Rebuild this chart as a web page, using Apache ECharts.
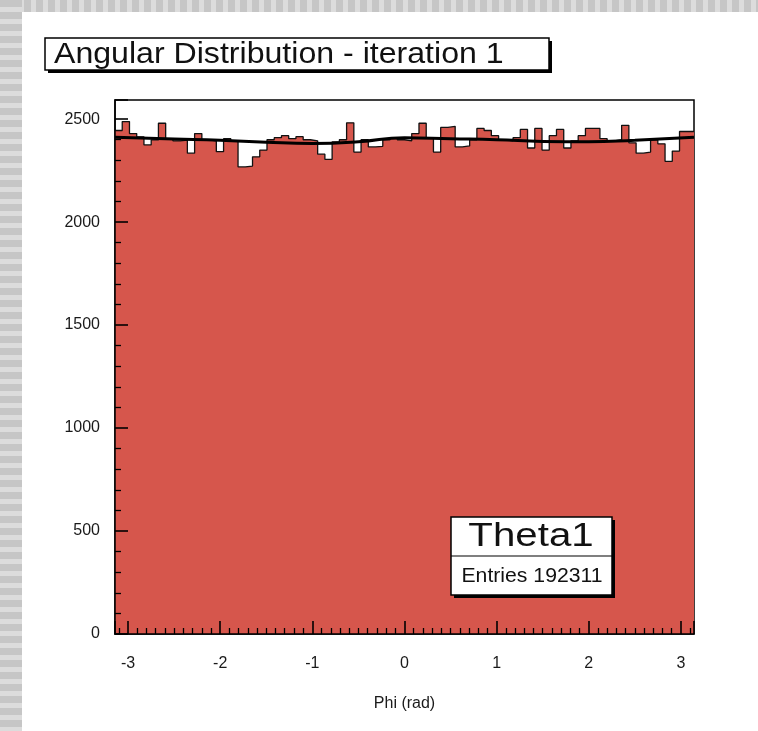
<!DOCTYPE html>
<html><head><meta charset="utf-8">
<script src="https://cdn.jsdelivr.net/npm/echarts@6/dist/echarts.min.js"></script>
<style>
html,body{margin:0;padding:0;width:758px;height:731px;overflow:hidden;background:#fff}
#bgTop{position:absolute;left:0;top:0;width:758px;height:12px;background:repeating-linear-gradient(90deg,#c6c6c6 0 7px,#dcdcdc 7px 12px)}
#bgLeft{position:absolute;left:0;top:0;width:22px;height:731px;background:repeating-linear-gradient(180deg,#c6c6c6 0 7px,#dcdcdc 7px 12px)}
#chart{position:absolute;left:0;top:0;width:758px;height:731px}
</style></head><body>
<div id="bgTop"></div><div id="bgLeft"></div><div id="chart"></div>
<script>
// ---- data ----
const titleText = "Angular Distribution - iteration 1";
const statsName = "Theta1";
const statsEntries = "Entries 192311";
const xAxisTitle = "Phi (rad)";
const phiMin = -Math.PI;
const phiMax = Math.PI;
const binCounts = [
  2445, 2488, 2430, 2414, 2375, 2399, 2480, 2405, 2395, 2398,
  2335, 2430, 2400, 2395, 2342, 2405, 2395, 2268, 2272, 2317,
  2350, 2400, 2410, 2420, 2405, 2415, 2400, 2395, 2330, 2305,
  2390, 2400, 2482, 2340, 2400, 2365, 2368, 2400, 2410, 2400,
  2395, 2430, 2480, 2410, 2340, 2460, 2465, 2365, 2370, 2400,
  2455, 2445, 2420, 2400, 2395, 2410, 2450, 2360, 2455, 2350,
  2420, 2450, 2360, 2395, 2420, 2455, 2455, 2405, 2395, 2400,
  2470, 2385, 2335, 2340, 2400, 2380, 2295, 2345, 2440, 2440
];
const fitPhi    = [-3.1416, -2.5, -2.0, -1.5, -1.0, -0.5, 0.0, 0.5, 1.0, 1.5, 2.0, 2.5, 3.1416];
const fitValues = [2412, 2404, 2398, 2388, 2382, 2390, 2410, 2405, 2400, 2392, 2390, 2398, 2412];
const xTickLabels = [-3, -2, -1, 0, 1, 2, 3];
const yTickLabels = [0, 500, 1000, 1500, 2000, 2500];
const yMax = 2593;

// ---- build series data ----
const nb = binCounts.length;
const bw = (phiMax - phiMin) / nb;
const histData = binCounts.map((v, i) => [phiMin + i * bw, v]);
histData.push([phiMax, binCounts[nb - 1]]);
const fitData = fitPhi.map((p, i) => [p, fitValues[i]]);

const FONT = '"Liberation Sans", Arial, Helvetica, sans-serif';
const chart = echarts.init(document.getElementById('chart'), null, {renderer: 'canvas'});
chart.setOption({
  animation: false,
  backgroundColor: 'transparent',
  grid: {left: 115, right: 64, top: 100, bottom: 97, show: true, borderColor: '#000', borderWidth: 1.5, backgroundColor: '#fff', z: 0},
  xAxis: {
    type: 'value', min: phiMin, max: phiMax, z: 10,
    axisLine: {show: true, onZero: false, lineStyle: {color: '#000', width: 1.5}},
    axisTick: {show: true, inside: true, length: 13, lineStyle: {color: '#000', width: 1.6}},
    minorTick: {show: true, splitNumber: 10, length: 6, lineStyle: {color: '#000', width: 1.3}},
    splitLine: {show: false},
    axisLabel: {
      margin: 22, fontSize: 16, color: '#1a1a1a', fontFamily: FONT,
      formatter: v => { const r = Math.round(v); return (Math.abs(v - r) < 1e-6 && xTickLabels.includes(r)) ? String(r) : ''; }
    },
    name: xAxisTitle, nameLocation: 'middle', nameGap: 62,
    nameTextStyle: {fontSize: 16, color: '#1a1a1a', fontFamily: FONT}
  },
  yAxis: {
    type: 'value', min: 0, max: yMax, interval: 500, z: 10,
    axisLine: {show: true, onZero: false, lineStyle: {color: '#000', width: 1.5}},
    axisTick: {show: true, inside: true, length: 13, lineStyle: {color: '#000', width: 1.6}},
    minorTick: {show: true, splitNumber: 5, length: 6, lineStyle: {color: '#000', width: 1.3}},
    splitLine: {show: false},
    axisLabel: {margin: 15, fontSize: 16, color: '#1a1a1a', fontFamily: FONT,
      formatter: v => yTickLabels.includes(v) ? String(v) : ''}
  },
  series: [
    {
      type: 'line', data: histData, step: 'end', symbol: 'none', z: 2,
      lineStyle: {color: '#111', width: 1.3},
      areaStyle: {color: '#d6564c', opacity: 1}
    },
    {
      type: 'line', data: fitData, smooth: true, symbol: 'none', z: 3,
      lineStyle: {color: '#000', width: 3}
    }
  ],
  graphic: [
    {type: 'rect', z: 100, shape: {x: 48, y: 41, width: 504, height: 32}, style: {fill: '#000'}},
    {type: 'rect', z: 101, shape: {x: 45, y: 38, width: 504, height: 32}, style: {fill: '#fff', stroke: '#000', lineWidth: 1.5}},
    {type: 'text', z: 102, x: 54, y: 55, scaleX: 1.07,
      style: {text: titleText, font: '30px ' + FONT, fill: '#111', verticalAlign: 'middle', align: 'left'}},

    {type: 'rect', z: 100, shape: {x: 454, y: 520, width: 161, height: 78}, style: {fill: '#000'}},
    {type: 'rect', z: 101, shape: {x: 451, y: 517, width: 161, height: 78}, style: {fill: '#fff', stroke: '#000', lineWidth: 1.5}},
    {type: 'line', z: 102, shape: {x1: 451, y1: 556, x2: 612, y2: 556}, style: {stroke: '#000', lineWidth: 1.2}},
    {type: 'text', z: 102, x: 531, y: 537, scaleX: 1.22,
      style: {text: statsName, font: '33px ' + FONT, fill: '#111', verticalAlign: 'middle', align: 'center'}},
    {type: 'text', z: 102, x: 532, y: 576, scaleX: 1.06,
      style: {text: statsEntries, font: '20px ' + FONT, fill: '#111', verticalAlign: 'middle', align: 'center'}}
  ]
});
</script>
</body></html>
